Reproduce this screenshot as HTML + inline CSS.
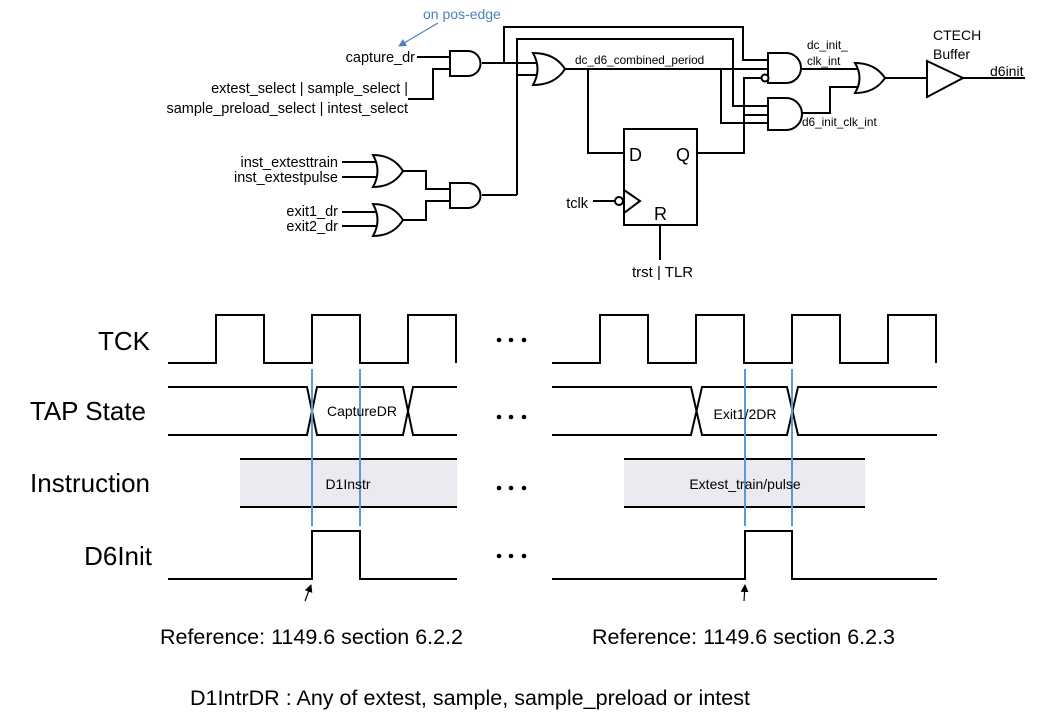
<!DOCTYPE html>
<html><head><meta charset="utf-8"><style>
html,body{margin:0;padding:0;background:#fff}
svg{display:block}
text{font-family:"Liberation Sans",sans-serif;fill:#000}
</style></head><body>
<svg width="1051" height="714" viewBox="0 0 1051 714" xmlns="http://www.w3.org/2000/svg">
<defs>
<marker id="ab" markerWidth="8" markerHeight="8" refX="7" refY="4" orient="auto" markerUnits="userSpaceOnUse"><path d="M0,0 L8,4 L0,8z" fill="#4f81bd"/></marker>
<marker id="ak" markerWidth="8" markerHeight="10" refX="7" refY="4" orient="auto" markerUnits="userSpaceOnUse"><path d="M0,0 L8,4 L0,8z" fill="#000"/></marker>
</defs>
<g fill="none" stroke="#000" stroke-width="2">
<path d="M450,51 H468 A12.5,12.5 0 0 1 468,76 H450 Z"/>
<path d="M417,57 H450 M408,99 H433 V69 H450"/>
<path d="M533,53 Q555,53 565,69 Q555,85 533,85 Q542,69 533,53Z"/>
<path d="M482,63 H537 M504,63 V27 H743 V60 H768 M517,195 V39 H733 V106 H768 M517,75 H537"/>
<path d="M373,155 Q393,155 403,171 Q393,187 373,187 Q382,171 373,155Z"/>
<path d="M373,204 Q393,204 403,220 Q393,236 373,236 Q382,220 373,204Z"/>
<path d="M342,162 H376 M342,177 H376 M342,212 H376 M342,226 H376"/>
<path d="M403,171 H426 V189 H450 M403,220 H426 V201 H450"/>
<path d="M450,183 H468 A12.5,12.5 0 0 1 468,208 H450 Z"/>
<path d="M482,195 H517"/>
<path d="M565,69 H768 M721,69 V123 H768 M588,69 V153 H624 M697,153 H744 V78 H762 M744,115 H768"/>
<path d="M768,53 H786 A15,15 0 0 1 786,83 H768 Z"/>
<circle cx="765" cy="78" r="3.5" fill="#fff"/>
<path d="M768,98 H786 A16,16 0 0 1 786,130 H768 Z"/>
<path d="M800,69 H858 M802,113 H830 V87 H858"/>
<path d="M855,63 Q875,63 885,78 Q875,93 855,93 Q864,78 855,63Z"/>
<path d="M885,78 H927"/>
<path d="M927,61 L963,78 L927,97 Z"/>
<path d="M963,78 H1025"/>
<rect x="624" y="129" width="73" height="96"/>
<path d="M624,190 L640,201 L624,213"/>
<circle cx="619" cy="201" r="4" fill="#fff"/>
<path d="M593,201 H615 M660,225 V260"/>
</g>
<line x1="438" y1="23" x2="399" y2="46" stroke="#4f81bd" stroke-width="1.3" marker-end="url(#ab)"/>
<text x="423" y="19" font-size="14" style="fill:#4f81bd">on pos-edge</text>
<g font-size="14.5" text-anchor="end">
<text x="415" y="62">capture_dr</text>
<text x="408" y="93">extest_select | sample_select |</text>
<text x="408" y="113">sample_preload_select | intest_select</text>
<text x="338" y="167">inst_extesttrain</text>
<text x="338" y="182">inst_extestpulse</text>
<text x="338" y="216">exit1_dr</text>
<text x="338" y="231">exit2_dr</text>
<text x="588" y="208">tclk</text>
</g>
<g font-size="11.8">
<text x="575" y="64">dc_d6_combined_period</text>
<text x="807" y="49">dc_init_</text>
<text x="807" y="65">clk_int</text>
<text x="802" y="126">d6_init_clk_int</text>
</g>
<text x="933" y="40" font-size="14">CTECH</text>
<text x="933" y="59" font-size="14">Buffer</text>
<text x="990" y="76" font-size="14">d6init</text>
<text x="629" y="161" font-size="18">D</text>
<text x="676" y="161" font-size="18">Q</text>
<text x="654" y="220" font-size="18">R</text>
<text x="632" y="277" font-size="15">trst | TLR</text>

<g fill="none" stroke="#000" stroke-width="2">
<path d="M168,363 H216 V315 H264 V363 H312 V315 H360 V363 H408 V315 H456 V363"/>
<path d="M552,363 H600 V315 H648 V363 H696 V315 H744 V363 H792 V315 H840 V363 H888 V315 H936 V363"/>
<path d="M168,387 H307 L317,435 H403 L413,387 H457 M168,435 H307 L317,387 H403 L413,435 H457"/>
<path d="M552,387 H691 L702,435 H787 L798,387 H937 M552,435 H691 L702,387 H787 L798,435 H937"/>
<rect x="240" y="459" width="217" height="48" fill="#ece9f0" stroke="none"/>
<rect x="624" y="459" width="241" height="48" fill="#ece9f0" stroke="none"/>
<path d="M240,459 H457 M240,507 H457 M624,459 H865 M624,507 H865"/>
<path d="M168,579 H312 V531 H360 V579 H457 M552,579 H745 V531 H792 V579 H937"/>
</g>
<g stroke="#5b9bd5" stroke-width="2">
<line x1="312" y1="369" x2="312" y2="526"/><line x1="360" y1="369" x2="360" y2="526"/>
<line x1="745" y1="369" x2="745" y2="526"/><line x1="792" y1="369" x2="792" y2="526"/>
</g>
<g font-size="26" text-anchor="end">
<text x="150" y="350">TCK</text>
<text x="146" y="420">TAP State</text>
<text x="150" y="492">Instruction</text>
<text x="152" y="565">D6Init</text>
</g>
<g fill="#000">
<circle cx="499" cy="340" r="2.3"/><circle cx="511" cy="340" r="2.3"/><circle cx="524" cy="340" r="2.3"/>
<circle cx="499" cy="417" r="2.3"/><circle cx="511" cy="417" r="2.3"/><circle cx="524" cy="417" r="2.3"/>
<circle cx="499" cy="488" r="2.3"/><circle cx="511" cy="488" r="2.3"/><circle cx="524" cy="488" r="2.3"/>
<circle cx="499" cy="556" r="2.3"/><circle cx="511" cy="556" r="2.3"/><circle cx="524" cy="556" r="2.3"/>
</g>
<g font-size="14" text-anchor="middle">
<text x="362" y="416">CaptureDR</text>
<text x="745" y="419">Exit1/2DR</text>
<text x="348" y="489">D1Instr</text>
<text x="745" y="489">Extest_train/pulse</text>
</g>
<line x1="305" y1="601" x2="311" y2="585" stroke="#000" stroke-width="1.2" marker-end="url(#ak)"/>
<line x1="744" y1="601" x2="745" y2="585" stroke="#000" stroke-width="1.2" marker-end="url(#ak)"/>
<g font-size="21">
<text x="160" y="644" textLength="303" lengthAdjust="spacingAndGlyphs">Reference: 1149.6 section 6.2.2</text>
<text x="592" y="644" textLength="303" lengthAdjust="spacingAndGlyphs">Reference: 1149.6 section 6.2.3</text>
</g>
<text x="190" y="705" font-size="21" textLength="560" lengthAdjust="spacingAndGlyphs">D1IntrDR : Any of extest, sample, sample_preload or intest</text>
</svg>
</body></html>
